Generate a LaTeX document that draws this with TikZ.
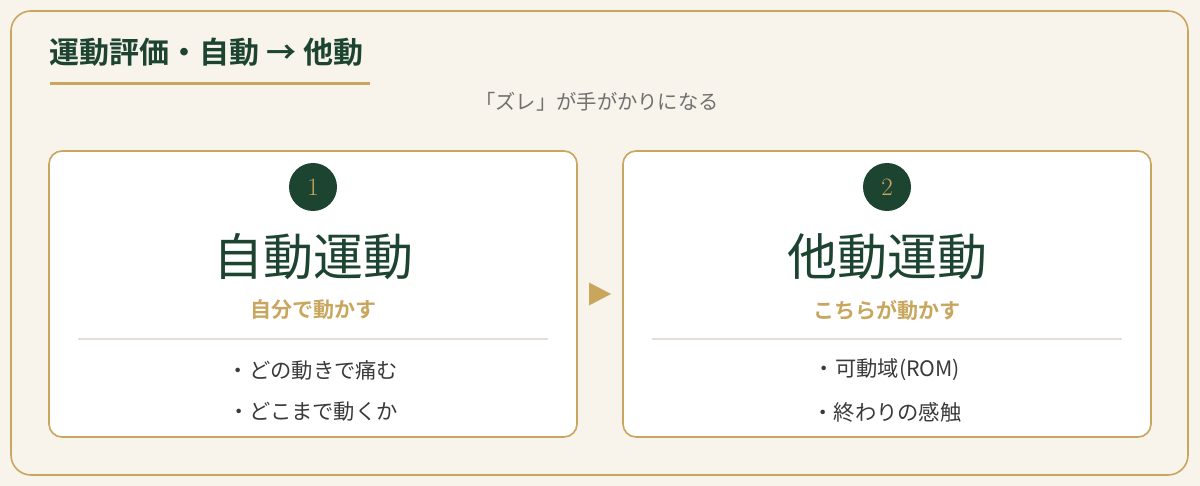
\documentclass[tikz,border=0pt]{standalone}
\usepackage{fontspec}
\setmainfont{Noto Sans CJK JP}[BoldFont={Noto Sans CJK JP Bold}]
\newfontfamily\numfont{Latin Modern Roman}
\usetikzlibrary{positioning, calc}

\definecolor{cream}{HTML}{F8F3EB}
\definecolor{gold}{HTML}{C9A65E}
\definecolor{pine}{HTML}{1D4431}
\definecolor{rule}{HTML}{E3DED6}
\definecolor{ink}{HTML}{3A3A3A}
\definecolor{muted}{HTML}{707070}

\tikzset{
  card/.style={draw=gold, line width=1.6pt, fill=white, rounded corners=13pt,
    minimum width=528pt, minimum height=286pt},
  badge/.style={circle, fill=pine, text=gold, minimum size=48pt, inner sep=0pt,
    font=\numfont\fontsize{25}{25}\selectfont},
  bigname/.style={text=pine, font=\fontsize{50}{54}\selectfont},
  howto/.style={text=gold, font=\bfseries\fontsize{21}{24}\selectfont},
  point/.style={text=ink, font=\fontsize{21.3}{24}\selectfont}
}

\begin{document}
\begin{tikzpicture}[x=1pt, y=-1pt]
\useasboundingbox (0,0) rectangle (1200,486);
\fill[cream] (0,0) rectangle (1200,486);

%%%  nodes

% frame and heading
\draw[gold, line width=1.6pt, rounded corners=20pt] (11,11) rectangle (1188,475);
\node [anchor=west, text=pine, font=\bfseries\fontsize{30}{32}\selectfont] (head) at (46,52) {運動評価・自動 → 他動};
\node [text=muted, font=\fontsize{20.3}{24}\selectfont] (sub) at (597,102) {「ズレ」が手がかりになる};

% cards
\node [card] (auto) at (313,294) {};
\node [card] (passive) at (887,294) {};

% card contents: left
\node [badge] (n1) at (313,187) {1};
\node [bigname] (t1) at (313,257) {自動運動};
\node [howto] (h1) at (313,310) {自分で動かす};
\node [point] (p1) at (313,370) {・どの動きで痛む};
\node [point] (q1) at (313,412) {・どこまで動くか};

% card contents: right
\node [badge] (n2) at (887,187) {2};
\node [bigname] (t2) at (887,257) {他動運動};
\node [howto] (h2) at (887,310) {こちらが動かす};
\node [point] (p2) at (887,370) {・可動域(ROM)};
\node [point] (q2) at (887,412) {・終わりの感触};

% arrow marker
\coordinate (mid) at ($(auto.east)!0.5!(passive.west)$);

%%% edges

% heading rule
\draw[gold, line width=3pt] (50,84) -- (370,84);

% separators
\draw[rule, line width=1.2pt] (78,339) -- (548,339);
\draw[rule, line width=1.2pt] (652,339) -- (1122,339);

% step marker
\fill[gold] ([xshift=-11pt,yshift=-11.5pt]mid) -- ([xshift=11pt]mid) -- ([xshift=-11pt,yshift=11.5pt]mid) -- cycle;
\end{tikzpicture}
\end{document}
